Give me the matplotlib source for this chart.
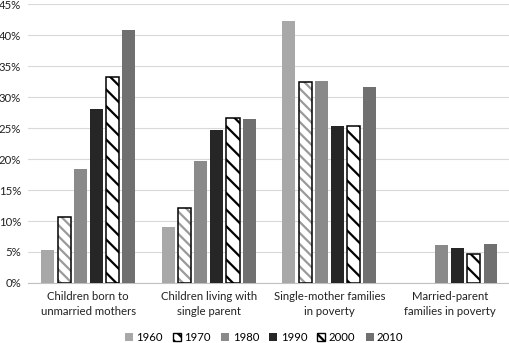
import numpy as np
import matplotlib.pyplot as plt
from matplotlib.ticker import PercentFormatter
from matplotlib.patches import Patch

plt.rcParams['font.family'] = ['Lato', 'DejaVu Sans']
plt.rcParams['hatch.linewidth'] = 1.6

# chart data (percent)
categories = ["Children born to\nunmarried mothers", "Children living with\nsingle parent",
              "Single-mother families\nin poverty", "Married-parent\nfamilies in poverty"]
years = ["1960", "1970", "1980", "1990", "2000", "2010"]
v1960 = [5.3, 9.1, 42.3, np.nan]
v1970 = [10.7, 12.1, 32.5, np.nan]
v1980 = [18.4, 19.7, 32.6, 6.2]
v1990 = [28.0, 24.7, 25.3, 5.7]
v2000 = [33.2, 26.7, 25.4, 4.7]
v2010 = [40.8, 26.5, 31.6, 6.3]
series = [v1960, v1970, v1980, v1990, v2000, v2010]

# styles: facecolor, hatch, hatch colour
styles = [("#a8a8a8", None, None),
          ("white", "\\\\\\", "#9a9a9a"),
          ("#8a8a8a", None, None),
          ("#262626", None, None),
          ("white", "\\\\", "black"),
          ("#707070", None, None)]

fs = 8.2
fig = plt.figure(figsize=(5.1, 3.43), dpi=100)
ax = fig.add_axes([0.055, 0.175, 0.945, 0.813])

x = np.arange(len(categories))
pitch = 0.134
width = 0.108
handles = []
for i, (vals, yr, (fc, hatch, hc)) in enumerate(zip(series, years, styles)):
    pos = x + (i - 2.5) * pitch
    if hatch:
        # hatch layer, then a black outline on top
        ax.bar(pos, vals, width, color=fc, edgecolor=hc, linewidth=0, hatch=hatch, zorder=3)
        ax.bar(pos, vals, width, fill=False, edgecolor="black", linewidth=1.1, zorder=4)
        handles.append(Patch(facecolor=fc, edgecolor="black", hatch=hatch, label=yr))
    else:
        ax.bar(pos, vals, width, color=fc, zorder=3)
        handles.append(Patch(facecolor=fc, label=yr))

ax.set_xlim(-0.5, 3.5)
ax.set_ylim(0, 45)
ax.set_yticks(np.arange(0, 46, 5))
ax.yaxis.set_major_formatter(PercentFormatter(decimals=0))
ax.set_xticks(x)
ax.set_xticklabels(categories, fontsize=fs, color="#222222", linespacing=1.45)
ax.tick_params(axis="y", labelsize=fs, labelcolor="#222222", length=0, pad=5)
ax.tick_params(axis="x", length=0, pad=6)
ax.grid(axis="y", color="#d9d9d9", linewidth=0.8, zorder=0)
for s in ["top", "right", "left"]:
    ax.spines[s].set_visible(False)
ax.spines["bottom"].set_color("#c0c0c0")

ax.legend(handles=handles, loc="center", bbox_to_anchor=(0.49, -0.197), ncol=6, frameon=False,
          fontsize=fs, handlelength=0.7, handleheight=0.7, handletextpad=0.3,
          columnspacing=0.9, borderaxespad=0)

fig.savefig("out.png", dpi=100)
